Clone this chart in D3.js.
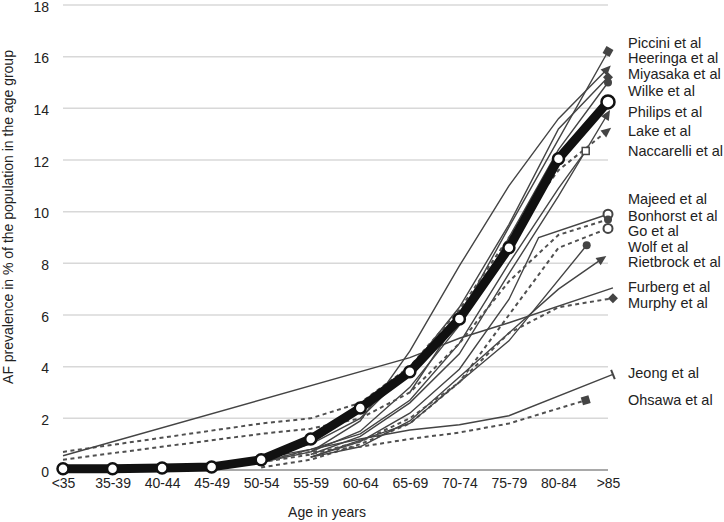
<!DOCTYPE html>
<html>
<head>
<meta charset="utf-8">
<script src="https://cdn.jsdelivr.net/npm/d3@7"></script>
<style>
  body { margin: 0; background: #fff; }
  svg { display: block; font-family: "Liberation Sans", Arial, sans-serif; }
</style>
</head>
<body>
<svg id="chart" width="724" height="522"></svg>
<script>
// age groups on the x axis, y ticks in %
const ageGroups = ["<35", "35-39", "40-44", "45-49", "50-54", "55-59", "60-64", "65-69", "70-74", "75-79", "80-84", ">85"];
const yTicks = [0, 2, 4, 6, 8, 10, 12, 14, 16, 18];

// each study: [age group index, prevalence %]
const pooled = [[0, 0.05], [1, 0.05], [2, 0.08], [3, 0.12], [4, 0.4], [5, 1.2], [6, 2.4], [7, 3.8], [8, 5.85], [9, 8.6], [10, 12.05], [11, 14.25]];
const piccini = [[7, 3.0], [8, 5.9], [9, 9.4], [10, 12.8], [11, 16.2]];
const heeringa = [[5, 0.7], [6, 1.9], [7, 4.6], [8, 7.9], [9, 11.0], [10, 13.6], [11, 15.55]];
const miyasaka = [[3, 0.2], [4, 0.5], [5, 1.0], [6, 2.0], [7, 3.9], [8, 6.3], [9, 9.5], [10, 13.2], [11, 15.2]];
const wilke = [[4, 0.3], [5, 0.7], [6, 1.5], [7, 3.2], [8, 5.6], [9, 9.0], [10, 12.4], [11, 15.0]];
const philips = [[5, 0.6], [6, 1.3], [7, 2.6], [8, 4.5], [9, 7.6], [10, 10.6], [11, 13.8]];
const lake = [[0, 0.7], [4, 1.8], [5, 2.0], [6, 2.6], [7, 4.0], [8, 6.2], [9, 9.0], [10, 11.6], [11, 13.15]];
const naccarelli = [[4, 0.3], [5, 0.8], [6, 1.4], [7, 2.7], [8, 4.9], [9, 8.0], [10, 10.9], [10.55, 12.35]];
const majeed = [[5, 0.5], [6, 1.1], [7, 2.2], [8, 3.9], [9, 6.6], [9.6, 9.0], [11, 9.9]];
const bonhorst = [[0, 0.4], [4, 1.4], [5, 1.6], [6, 2.0], [7, 3.0], [8, 4.9], [9, 7.3], [10, 9.1], [11, 9.7]];
const go = [[4, 0.1], [5, 0.4], [6, 1.0], [7, 1.8], [8, 3.4], [9, 6.0], [10, 8.6], [11, 9.35]];
const wolf = [[5, 0.5], [7, 1.8], [9, 5.0], [10.57, 8.7]];
const rietbrock = [[5, 0.5], [6, 0.9], [7, 1.9], [8, 3.6], [9, 5.3], [10, 7.0], [10.9, 8.2]];
const furberg = [[0, 0.55], [7, 4.35], [8, 5.1], [9, 5.7], [11.1, 7.05]];
const murphy = [[4, 0.3], [5, 0.6], [6, 1.1], [7, 2.0], [8, 3.4], [9, 5.3], [10, 6.3], [11.1, 6.65]];
const jeong = [[3, 0.2], [4, 0.45], [5, 0.8], [6, 1.2], [7, 1.55], [8, 1.75], [9, 2.1], [11.1, 3.7]];
const ohsawa = [[4, 0.4], [5, 0.7], [6, 0.9], [7, 1.2], [8, 1.45], [9, 1.8], [10.55, 2.7]];

// study names and the level (%) their label sits at on the right
const studyNames = ["Piccini et al", "Heeringa et al", "Miyasaka et al", "Wilke et al", "Philips et al", "Lake et al", "Naccarelli et al",
  "Majeed et al", "Bonhorst et al", "Go et al", "Wolf et al", "Rietbrock et al", "Furberg et al", "Murphy et al", "Jeong et al", "Ohsawa et al"];
const labelLevels = [16.55, 15.97, 15.32, 14.67, 13.86, 13.12, 12.35, 10.49, 9.83, 9.25, 8.63, 8.05, 7.08, 6.47, 3.76, 2.71];
const studyData = [piccini, heeringa, miyasaka, wilke, philips, lake, naccarelli, majeed, bonhorst, go, wolf, rietbrock, furberg, murphy, jeong, ohsawa];

// line style + end marker per study (same order)
const studyStyle = [
  { dash: false, marker: "square" },
  { dash: false, marker: "arrow" },
  { dash: false, marker: "diamond" },
  { dash: false, marker: "dot" },
  { dash: false, marker: "arrow" },
  { dash: true, marker: "arrow" },
  { dash: false, marker: "opensquare" },
  { dash: false, marker: "opencircle" },
  { dash: true, marker: "dot" },
  { dash: true, marker: "opencircle" },
  { dash: false, marker: "dot" },
  { dash: false, marker: "arrow" },
  { dash: false, marker: "none" },
  { dash: true, marker: "diamond" },
  { dash: false, marker: "tick" },
  { dash: true, marker: "square" }
];

const svg = d3.select("#chart");
const lineColor = "#444";

const x = d3.scaleLinear().domain([0, 11]).range([63, 608]);
const y = d3.scaleLinear().domain([0, 18]).range([470, 5]);

// grid
svg.append("g")
  .selectAll("line")
  .data(yTicks.filter((d) => d > 0))
  .enter()
  .append("line")
  .attr("x1", x(0))
  .attr("x2", x(11))
  .attr("y1", (d) => y(d))
  .attr("y2", (d) => y(d))
  .attr("stroke", "#d8d8d8")
  .attr("stroke-width", 1.5);

svg.append("line")
  .attr("x1", x(0)).attr("x2", x(11))
  .attr("y1", y(0)).attr("y2", y(0))
  .attr("stroke", "#8c8c8c")
  .attr("stroke-width", 1.5);

// axes
const xAxis = d3.axisBottom(x).tickValues(d3.range(12)).tickFormat((i) => ageGroups[i]).tickSize(0).tickPadding(8);
const gx = svg.append("g").attr("transform", `translate(0,${y(0)})`).call(xAxis);
gx.select(".domain").remove();
gx.selectAll("text").attr("font-size", "14px").attr("fill", "#222").attr("font-family", "Liberation Sans, Arial, sans-serif");

const yAxis = d3.axisLeft(y).tickValues(yTicks).tickSize(0).tickPadding(14);
const gy = svg.append("g").attr("transform", `translate(${x(0)},0)`).call(yAxis);
gy.select(".domain").remove();
gy.selectAll("text").attr("dy", "0.43em").attr("font-size", "14px").attr("fill", "#222").attr("font-family", "Liberation Sans, Arial, sans-serif");

svg.append("text")
  .attr("x", 327).attr("y", 517)
  .attr("text-anchor", "middle")
  .attr("font-size", "14px").attr("fill", "#222")
  .text("Age in years");

svg.append("text")
  .attr("transform", "translate(13,217) rotate(-90)")
  .attr("text-anchor", "middle")
  .attr("font-size", "14px").attr("fill", "#222")
  .text("AF prevalence in % of the population in the age group");

const line = d3.line().x((d) => x(d[0])).y((d) => y(d[1]));

// study lines
const gLines = svg.append("g");
studyData.forEach((data, k) => {
  const st = studyStyle[k];
  gLines.append("path")
    .attr("d", line(data))
    .attr("fill", "none")
    .attr("stroke", st.dash ? "#505050" : lineColor)
    .attr("stroke-width", st.dash ? 2 : 1.4)
    .attr("stroke-dasharray", st.dash ? "4,3.5" : null);
});

// end markers
function drawMarker(g, data, type) {
  const last = data[data.length - 1];
  const prev = data[data.length - 2];
  const px = x(last[0]), py = y(last[1]);
  const ang = Math.atan2(py - y(prev[1]), px - x(prev[0])) * 180 / Math.PI;
  const m = g.append("g").attr("transform", `translate(${px},${py})`);
  if (type === "arrow") {
    m.append("path").attr("d", "M4,0 L-6,-4.5 L-6,4.5 Z")
      .attr("transform", `rotate(${ang})`).attr("fill", lineColor);
  } else if (type === "square") {
    m.append("rect").attr("x", -4).attr("y", -4).attr("width", 8).attr("height", 8)
      .attr("transform", `rotate(${ang})`).attr("fill", lineColor);
  } else if (type === "opensquare") {
    m.append("rect").attr("x", -3.5).attr("y", -3.5).attr("width", 7).attr("height", 7)
      .attr("fill", "#fff").attr("stroke", lineColor).attr("stroke-width", 1.5);
  } else if (type === "diamond") {
    m.append("path").attr("d", "M0,-5 L5,0 L0,5 L-5,0 Z").attr("fill", lineColor);
  } else if (type === "dot") {
    m.append("circle").attr("r", 4).attr("fill", lineColor);
  } else if (type === "opencircle") {
    m.append("circle").attr("r", 4.5).attr("fill", "#fff").attr("stroke", lineColor).attr("stroke-width", 2);
  } else if (type === "tick") {
    m.append("line").attr("x1", 0).attr("x2", 0).attr("y1", -5).attr("y2", 5)
      .attr("transform", `rotate(${ang})`).attr("stroke", lineColor).attr("stroke-width", 2);
  }
}
studyData.forEach((data, k) => drawMarker(gLines, data, studyStyle[k].marker));

// pooled thick line on top
svg.append("path")
  .attr("d", line(pooled))
  .attr("fill", "none")
  .attr("stroke", "#111")
  .attr("stroke-width", 9)
  .attr("stroke-linejoin", "round");

svg.append("g")
  .selectAll("circle")
  .data(pooled)
  .enter()
  .append("circle")
  .attr("cx", (d) => x(d[0]))
  .attr("cy", (d) => y(d[1]))
  .attr("r", (d, i) => (i === pooled.length - 1 ? 6.5 : 5.5))
  .attr("fill", "#fff")
  .attr("stroke", "#111")
  .attr("stroke-width", 2.5);

// study names on the right
svg.append("g")
  .selectAll("text")
  .data(studyNames)
  .enter()
  .append("text")
  .attr("x", 628)
  .attr("y", (d, i) => y(labelLevels[i]))
  .attr("dy", "0.35em")
  .attr("font-size", "14.5px")
  .attr("fill", "#222")
  .text((d) => d);
</script>
</body>
</html>
